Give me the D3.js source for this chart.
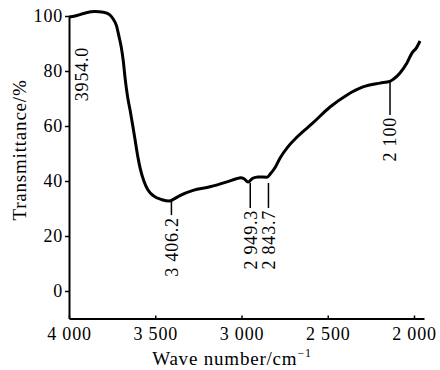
<!DOCTYPE html>
<html>
<head>
<meta charset="utf-8">
<script src="https://cdn.jsdelivr.net/npm/d3@7"></script>
<style>
body { margin: 0; background: #fff; }
svg text { font-family: 'Liberation Serif', 'DejaVu Serif', serif; fill: #000; }
</style>
</head>
<body>
<svg></svg>
<script>
var WIDTH = 440;
var HEIGHT = 370;
var FONT = "'Liberation Serif', 'DejaVu Serif', serif";

// spectrum: wave number (cm-1) and transmittance (%)
var waveNumbers = [4000, 3965, 3910, 3850, 3800, 3765, 3745, 3725, 3710, 3698,
  3685, 3675, 3660, 3646, 3630, 3617, 3600, 3588, 3565, 3542,
  3510, 3461, 3420, 3390, 3357, 3281, 3183, 3084, 3030, 3005,
  2985, 2962, 2935, 2904, 2852, 2830, 2806, 2777, 2730, 2678,
  2586, 2487, 2388, 2296, 2197, 2140, 2120, 2081, 2041, 2012,
  1985, 1965];
var transmittance = [99.6, 100, 101.0, 101.6, 101.4, 100.5, 99.0, 96.5, 92.5, 89.0,
  83.5, 77.5, 70.5, 65.8, 60, 55, 48.5, 44.8, 39.8, 36.7,
  34.6, 33.2, 32.7, 33.5, 34.7, 36.6, 37.9, 39.7, 40.8, 41.2,
  40.8, 39.6, 41.0, 41.5, 41.4, 42.8, 44.8, 48.3, 52.5, 56,
  61.1, 66.9, 71.3, 74.2, 75.6, 76.2, 77.0, 79.3, 82.9, 86.5,
  88.5, 90.9];

var xTicks = [4000, 3500, 3000, 2500, 2000];
var yTicks = [0, 20, 40, 60, 80, 100];

// peak labels: text, where it sits (cm-1), leader line from/to (%)
var peakLabels = ['3954.0', '3 406.2', '2 949.3', '2 843.7', '2 100'];
var peakPos = [3925, 3406.2, 2949.3, 2843.7, 2139];
var peakLineTop = [null, 32.7, 39.3, 39.3, 76.1];
var peakLineBottom = [89.5, 27.6, 30.2, 30.2, 64.0];

var svg = d3.select('svg')
  .attr('width', WIDTH)
  .attr('height', HEIGHT);

var xScale = d3.scaleLinear().domain([4000, 1942]).range([69, 424]);
var yScale = d3.scaleLinear().domain([-10, 100]).range([318.5, 16]);

var fmt = function(d) { return d3.format(',')(d).replace(',', ' '); };

var bottomAxis = d3.axisBottom(xScale)
  .tickValues(xTicks)
  .tickSizeInner(-3)
  .tickSizeOuter(0)
  .tickPadding(9)
  .tickFormat(fmt);

var leftAxis = d3.axisLeft(yScale)
  .tickValues(yTicks)
  .tickSizeInner(4)
  .tickSizeOuter(0)
  .tickPadding(2);

var gx = svg.append('g')
  .attr('transform', 'translate(0,' + yScale(-10) + ')')
  .call(bottomAxis);
var gy = svg.append('g')
  .attr('transform', 'translate(' + xScale(4000) + ',0)')
  .call(leftAxis);

[gx, gy].forEach(function(g) {
  g.attr('font-family', FONT).attr('font-size', 18);
  g.select('.domain').attr('stroke', '#000').attr('stroke-width', 2);
  g.selectAll('.tick line').attr('stroke', '#000').attr('stroke-width', 1.5);
  g.selectAll('.tick text')
    .attr('letter-spacing', 0.8)
    .attr('fill', '#000');
});

// spectrum line
var points = waveNumbers.map(function(w, i) { return [w, transmittance[i]]; });
var line = d3.line()
  .x(function(d) { return xScale(d[0]); })
  .y(function(d) { return yScale(d[1]); })
  .curve(d3.curveMonotoneX);

svg.append('path')
  .datum(points)
  .attr('d', line)
  .attr('fill', 'none')
  .attr('stroke', '#000')
  .attr('stroke-width', 3)
  .attr('stroke-linejoin', 'round');

// peak annotations
peakLabels.forEach(function(label, i) {
  var x = xScale(peakPos[i]);
  if (peakLineTop[i] !== null) {
    svg.append('line')
      .attr('x1', x).attr('x2', x)
      .attr('y1', yScale(peakLineTop[i]))
      .attr('y2', yScale(peakLineBottom[i]))
      .attr('stroke', '#000')
      .attr('stroke-width', 1.5);
  }
  svg.append('text')
    .attr('transform', 'translate(' + x + ',' + (yScale(peakLineBottom[i]) + 2) + ') rotate(-90)')
    .attr('text-anchor', 'end')
    .attr('dy', '0.35em')
    .attr('font-size', 18)
    .attr('letter-spacing', 0.8)
    .text(label);
});

// axis titles
var xt = svg.append('text')
  .attr('x', 232)
  .attr('y', 365)
  .attr('text-anchor', 'middle')
  .attr('font-size', 19)
  .attr('letter-spacing', 0.8);
xt.append('tspan').text('Wave number/cm');
xt.append('tspan').attr('font-size', 12).attr('dy', -8).text('\u22121');

svg.append('text')
  .attr('transform', 'translate(26,150) rotate(-90)')
  .attr('text-anchor', 'middle')
  .attr('font-size', 19)
  .attr('letter-spacing', 0.8)
  .text('Transmittance/%');
</script>
</body>
</html>
